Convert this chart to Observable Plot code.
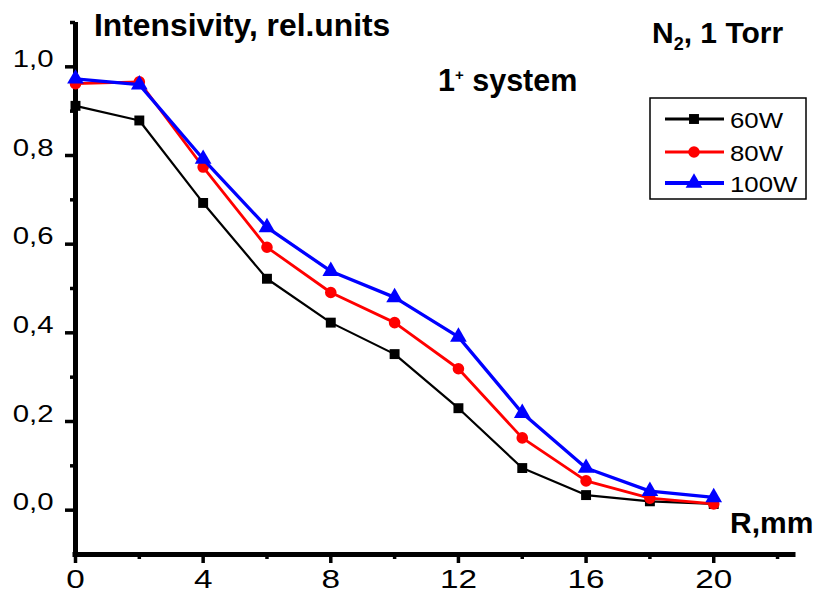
<!DOCTYPE html>
<html>
<head>
<meta charset="utf-8">
<script src="https://cdn.jsdelivr.net/npm/d3@7"></script>
<script src="https://cdn.jsdelivr.net/npm/@observablehq/plot@0.6"></script>
<style>
  html, body { margin: 0; padding: 0; background: #fff; }
  #chart { width: 818px; height: 600px; }
</style>
</head>
<body>
<div id="chart"></div>
<script>
// ---- data ----
const R = [0, 2, 4, 6, 8, 10, 12, 14, 16, 18, 20];
const p60  = [0.912, 0.879, 0.693, 0.522, 0.423, 0.352, 0.230, 0.095, 0.034, 0.020, 0.014];
const p80  = [0.962, 0.966, 0.774, 0.593, 0.491, 0.423, 0.319, 0.163, 0.066, 0.027, 0.014];
const p100 = [0.973, 0.960, 0.792, 0.638, 0.539, 0.480, 0.391, 0.219, 0.095, 0.043, 0.029];
const seriesNames = ["60W", "80W", "100W"];
const seriesValues = [p60, p80, p100];
const seriesColors = ["#000000", "#ff0000", "#0000ff"];
const seriesSymbols = ["square", "circle", "triangle"];
const xMajor = [0, 4, 8, 12, 16, 20];
const xMinor = [2, 6, 10, 14, 18, 22];
const yMajor = [0, 0.2, 0.4, 0.6, 0.8, 1.0];
const yMinor = [0.1, 0.3, 0.5, 0.7, 0.9, 1.1];
const titleText = "Intensivity, rel.units";
const xLabelText = "R,mm";

// ---- styles ----
const lineWidths = [2.2, 2.8, 3.3];
const dotR = [5.6, 5.8, 6.2];
const FONT = "'Liberation Sans', Arial, Helvetica, sans-serif";

const tables = seriesNames.map((s, i) => R.map((r, j) => ({R: r, I: seriesValues[i][j], s})));

const seriesMarks = tables.flatMap((t, i) => [
  Plot.line(t, {x: "R", y: "I", stroke: seriesColors[i], strokeWidth: lineWidths[i]}),
  Plot.dot(t, {x: "R", y: "I", symbol: () => seriesSymbols[i], fill: seriesColors[i], stroke: "none", r: dotR[i]})
]);

const chart = Plot.plot({
  width: 818,
  height: 600,
  marginLeft: 75,
  marginRight: 25,
  marginTop: 22,
  marginBottom: 46,
  style: {fontFamily: FONT, color: "#000", background: "#fff", overflow: "visible"},
  x: {domain: [0, 22.5]},
  y: {domain: [-0.1, 1.1]},
  symbol: {type: "identity"},
  marks: [
    Plot.axisX(xMajor, {tickSize: 9, tickPadding: 24, strokeWidth: 3.5, fontSize: 26, label: null, tickFormat: d => String(d)}),
    Plot.axisX(xMinor, {tickSize: 5, strokeWidth: 3.5, label: null, tickFormat: () => ""}),
    Plot.axisY(yMajor, {tickSize: 10, tickPadding: 12, strokeWidth: 3.5, fontSize: 23.5, label: null, tickFormat: d => d.toFixed(1).replace(".", ",")}),
    Plot.axisY(yMinor, {tickSize: 5, strokeWidth: 3.5, label: null, tickFormat: () => ""}),
    Plot.ruleX([0], {strokeWidth: 5}),
    Plot.ruleY([-0.1], {strokeWidth: 5, strokeLinecap: "square"}),
    ...seriesMarks
  ]
});

document.getElementById("chart").appendChild(chart);
const svg = d3.select(chart);

// widen tick labels horizontally (the reference uses a wide face)
function widen(sel, k) {
  sel.each(function () {
    const x = +this.getAttribute("x") || 0, y = +this.getAttribute("y") || 0;
    const t = this.getAttribute("transform") || "";
    this.removeAttribute("x"); this.removeAttribute("y");
    this.setAttribute("transform", `${t} translate(${x},${y}) scale(${k},1)`);
  });
}
widen(svg.selectAll('g[aria-label="x-axis tick label"] text'), 1.28);
widen(svg.selectAll('g[aria-label="y-axis tick label"] text'), 1.25);

// ---- annotations ----
const ann = svg.append("g").attr("font-family", FONT).attr("font-weight", "bold")
  .attr("fill", "#000").attr("text-anchor", "start");
ann.append("text").attr("x", 94).attr("y", 36).attr("font-size", 31.8).text(titleText);
const n2 = ann.append("text").attr("x", 652).attr("y", 43).attr("font-size", 30);
n2.append("tspan").text("N");
n2.append("tspan").attr("font-size", 18).attr("dy", 7).text("2");
n2.append("tspan").attr("dy", -7).text(", 1 Torr");
const sys = ann.append("text").attr("x", 438).attr("y", 91).attr("font-size", 30.5);
sys.append("tspan").text("1");
sys.append("tspan").attr("font-size", 15).attr("dy", -11).text("+");
sys.append("tspan").attr("dy", 11).text(" system");
ann.append("text").attr("x", 730).attr("y", 533).attr("font-size", 30).text(xLabelText);

// ---- legend ----
const lg = svg.append("g").attr("font-family", FONT).attr("text-anchor", "start");
lg.append("rect").attr("x", 650).attr("y", 98).attr("width", 156).attr("height", 101)
  .attr("fill", "#fff").attr("stroke", "#000").attr("stroke-width", 1.5);
const rowY = [119, 152, 183];
const legendLineW = [3, 3, 4];
const d3sym = {square: d3.symbolSquare, circle: d3.symbolCircle, triangle: d3.symbolTriangle};
seriesNames.forEach((s, i) => {
  const y = rowY[i];
  lg.append("line").attr("x1", 665).attr("x2", 724).attr("y1", y).attr("y2", y)
    .attr("stroke", seriesColors[i]).attr("stroke-width", legendLineW[i]);
  lg.append("path").attr("transform", `translate(694,${y})`)
    .attr("d", d3.symbol(d3sym[seriesSymbols[i]], Math.PI * dotR[i] * dotR[i])())
    .attr("fill", seriesColors[i]);
  lg.append("text").attr("transform", `translate(730,${y + 9}) scale(1.2,1)`)
    .attr("font-size", 21.5).attr("fill", "#000").text(s);
});
</script>
</body>
</html>
